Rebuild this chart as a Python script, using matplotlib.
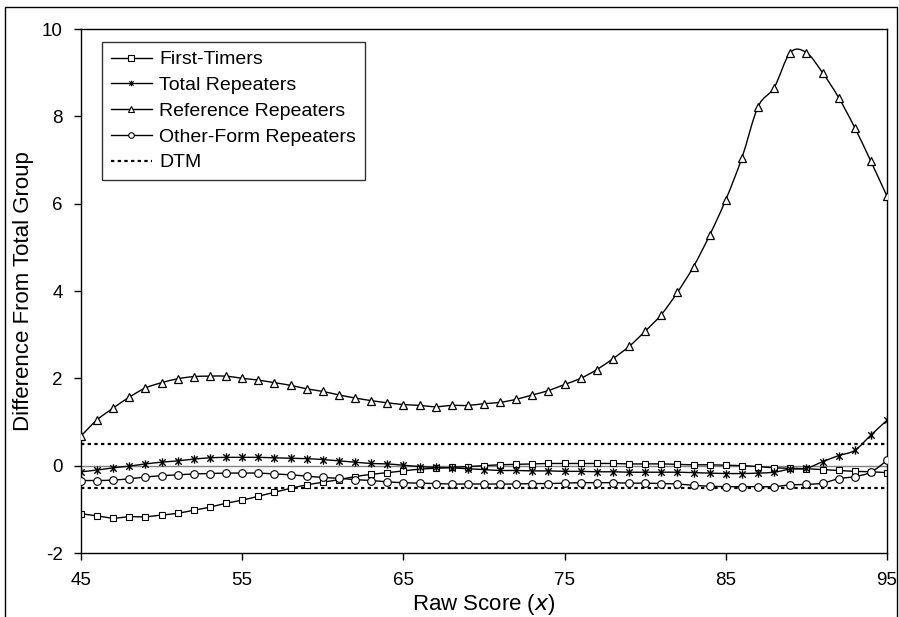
import numpy as np
import matplotlib
matplotlib.use("Agg")
import matplotlib.pyplot as plt
from matplotlib.path import Path
from matplotlib.patches import PathPatch, Rectangle
from matplotlib.lines import Line2D

plt.rcParams["font.family"] = ["Liberation Sans", "DejaVu Sans"]
plt.rcParams["axes.unicode_minus"] = False

raw_score = list(range(45, 96))

first_timers = [
    -1.10, -1.15, -1.20, -1.17, -1.17, -1.13, -1.09, -1.02, -0.95, -0.86,
    -0.79, -0.70, -0.61, -0.52, -0.44, -0.38, -0.32, -0.25, -0.20, -0.16,
    -0.12, -0.08, -0.06, -0.04, -0.02, 0.00, 0.02, 0.03, 0.04, 0.05,
    0.05, 0.05, 0.05, 0.05, 0.04, 0.04, 0.04, 0.03, 0.02, 0.02,
    0.01, 0.00, -0.02, -0.05, -0.06, -0.07, -0.09, -0.11, -0.13, -0.14,
    -0.16,
]

total_repeaters = [
    -0.14, -0.10, -0.05, -0.01, 0.04, 0.08, 0.11, 0.15, 0.18, 0.19,
    0.19, 0.19, 0.18, 0.17, 0.16, 0.14, 0.11, 0.08, 0.05, 0.04,
    0.01, -0.02, -0.04, -0.05, -0.07, -0.09, -0.11, -0.11, -0.12, -0.12,
    -0.13, -0.13, -0.14, -0.14, -0.15, -0.15, -0.15, -0.15, -0.16, -0.17,
    -0.18, -0.18, -0.17, -0.15, -0.08, -0.06, 0.09, 0.23, 0.35, 0.70,
    1.04,
]

reference_repeaters = [
    0.68, 1.05, 1.32, 1.57, 1.78, 1.90, 1.99, 2.04, 2.05, 2.05,
    2.00, 1.96, 1.90, 1.84, 1.76, 1.70, 1.62, 1.55, 1.49, 1.44,
    1.40, 1.38, 1.35, 1.38, 1.38, 1.42, 1.45, 1.52, 1.62, 1.72,
    1.86, 2.00, 2.20, 2.45, 2.73, 3.08, 3.46, 3.97, 4.56, 5.28,
    6.09, 7.05, 8.22, 8.66, 9.46, 9.46, 9.00, 8.43, 7.74, 6.97,
    6.17,
]

other_form_repeaters = [
    -0.34, -0.34, -0.33, -0.30, -0.26, -0.23, -0.21, -0.19, -0.18, -0.17,
    -0.17, -0.17, -0.19, -0.21, -0.24, -0.27, -0.29, -0.32, -0.34, -0.37,
    -0.39, -0.40, -0.41, -0.42, -0.42, -0.42, -0.42, -0.42, -0.41, -0.41,
    -0.40, -0.39, -0.39, -0.39, -0.40, -0.40, -0.41, -0.42, -0.45, -0.47,
    -0.48, -0.48, -0.48, -0.48, -0.44, -0.43, -0.40, -0.30, -0.25, -0.15,
    0.12,
]

dtm_bounds = [-0.5, 0.5]

x_ticks = [45, 55, 65, 75, 85, 95]
y_ticks = [-2, 0, 2, 4, 6, 8, 10]

# asterisk marker: an X with a vertical bar through it
star_marker = Path(
    [(-1, -1), (1, 1), (-1, 1), (1, -1), (0, -1.3), (0, 1.3)],
    [Path.MOVETO, Path.LINETO, Path.MOVETO, Path.LINETO, Path.MOVETO, Path.LINETO],
)


def smooth_path(xs, ys):
    """Bezier path through the points, spreadsheet-style smoothed line."""
    pts = np.column_stack([xs, ys]).astype(float)
    n = len(pts)
    verts = [tuple(pts[0])]
    codes = [Path.MOVETO]
    for i in range(n - 1):
        p0 = pts[i - 1] if i > 0 else pts[i]
        p1 = pts[i]
        p2 = pts[i + 1]
        p3 = pts[i + 2] if i + 2 < n else pts[i + 1]
        c1 = p1 + (p2 - p0) / 6.0
        c2 = p2 - (p3 - p1) / 6.0
        verts += [tuple(c1), tuple(c2), tuple(p2)]
        codes += [Path.CURVE4] * 3
    return Path(verts, codes)


fig = plt.figure(figsize=(8.99, 6.17), dpi=100)
ax = fig.add_axes([81 / 899, 1 - 553 / 617, 806 / 899, 524 / 617])

# outer chart frame
fig.add_artist(Rectangle((5 / 899, -0.1), 892 / 899, 1.1 - 7 / 617,
                         transform=fig.transFigure, fill=False,
                         edgecolor="black", linewidth=1.0, clip_on=False))

ax.axhline(0, color="#808080", linewidth=1.0, zorder=1)
for b in dtm_bounds:
    ax.axhline(b, color="black", linewidth=1.6, linestyle=(0, (1.5, 1.5)), zorder=1)

series = [
    ("First-Timers", first_timers, "s", 5.0, 0.8),
    ("Total Repeaters", total_repeaters, star_marker, 6.0, 1.0),
    ("Reference Repeaters", reference_repeaters, "^", 5.5, 0.9),
    ("Other-Form Repeaters", other_form_repeaters, "o", 5.5, 0.8),
]

handles = []
for k, (name, vals, mk, ms, mew) in enumerate(series):
    patch = PathPatch(smooth_path(raw_score, vals), fill=False,
                      edgecolor="black", linewidth=1.0, zorder=2 + k)
    ax.add_patch(patch)
    ax.plot(raw_score, vals, linestyle="none", marker=mk, markersize=ms,
            markerfacecolor="white", markeredgecolor="black",
            markeredgewidth=mew, zorder=2.5 + k)
    handles.append(Line2D([], [], color="black", linewidth=1.0, marker=mk,
                          markersize=4, markerfacecolor="white",
                          markeredgecolor="black", markeredgewidth=0.8,
                          label=name))
handles.append(Line2D([], [], color="black", linewidth=1.6,
                      linestyle=(0, (1.5, 1.5)), label="DTM"))

ax.set_xlim(45, 95)
ax.set_ylim(-2, 10)
ax.set_xticks(x_ticks)
ax.set_yticks(y_ticks)
ax.tick_params(direction="out", length=5, width=1, labelsize=13.5,
               colors="black")
ax.tick_params(axis="x", pad=9)
ax.tick_params(axis="y", pad=8)
for s in ax.spines.values():
    s.set_linewidth(1.0)
    s.set_color("black")

ax.set_xlabel("Raw Score ($\\it{x}$)", fontsize=16, labelpad=2)
ax.set_ylabel("Difference From Total Group", fontsize=16, labelpad=6)

leg = ax.legend(handles=handles, loc="upper left",
                bbox_to_anchor=(21 / 806, 1 - 13 / 524), fontsize=14,
                frameon=True, fancybox=False, shadow=False, handlelength=2.1,
                handletextpad=0.4, labelspacing=0.42, borderpad=0.45,
                borderaxespad=0)
leg.get_frame().set_edgecolor("black")
leg.get_frame().set_linewidth(1.0)

fig.savefig("out.png", dpi=100)
